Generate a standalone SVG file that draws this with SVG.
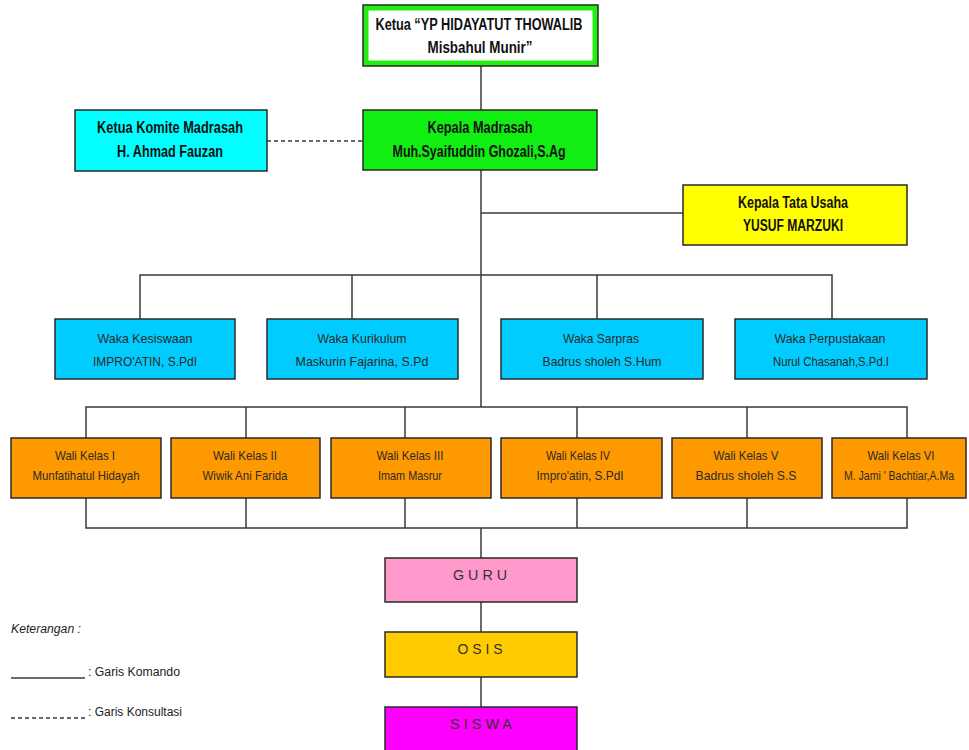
<svg xmlns="http://www.w3.org/2000/svg" width="969" height="750" viewBox="0 0 969 750">
<style>
.box{stroke:#2a2a2a;stroke-width:1.5}
.ln{stroke:#3a3a3a;stroke-width:1.5;fill:none}
.dash{stroke:#3a3a3a;stroke-width:1.5;fill:none;stroke-dasharray:4 3}
text{font-family:"Liberation Sans","DejaVu Sans",sans-serif}
.b{font-weight:bold;font-size:16px;fill:#111;text-anchor:middle}
.s{font-size:13.5px;fill:#2a2a2a;text-anchor:middle}
.sp{font-size:14px;fill:#333;text-anchor:middle}
.lg{font-size:12px;fill:#222}
</style>
<rect width="969" height="750" fill="#fff"/>
<g id="connectors">
<line class="ln" x1="481" y1="66" x2="481" y2="110"/>
<line class="dash" x1="267" y1="141" x2="363" y2="141"/>
<line class="ln" x1="481" y1="170" x2="481" y2="407"/>
<line class="ln" x1="481" y1="213" x2="683" y2="213"/>
<polyline class="ln" points="140,319 140,275 832,275 832,319"/>
<line class="ln" x1="352" y1="275" x2="352" y2="319"/>
<line class="ln" x1="597" y1="275" x2="597" y2="319"/>
<polyline class="ln" points="86,438 86,407 907,407 907,438"/>
<line class="ln" x1="246" y1="407" x2="246" y2="438"/>
<line class="ln" x1="405" y1="407" x2="405" y2="438"/>
<line class="ln" x1="577" y1="407" x2="577" y2="438"/>
<line class="ln" x1="747" y1="407" x2="747" y2="438"/>
<polyline class="ln" points="86,498 86,528 907,528 907,498"/>
<line class="ln" x1="246" y1="498" x2="246" y2="528"/>
<line class="ln" x1="405" y1="498" x2="405" y2="528"/>
<line class="ln" x1="577" y1="498" x2="577" y2="528"/>
<line class="ln" x1="747" y1="498" x2="747" y2="528"/>
<line class="ln" x1="481" y1="528" x2="481" y2="558"/>
<line class="ln" x1="481" y1="602" x2="481" y2="632"/>
<line class="ln" x1="481" y1="677" x2="481" y2="707"/>
</g>
<g id="ketua-yp">
<rect class="box" x="363" y="5" width="235" height="61" fill="#22ee11"/>
<rect x="368.5" y="10.5" width="224" height="50" fill="#fff"/>
<text class="b" x="479" y="30" textLength="207" lengthAdjust="spacingAndGlyphs">Ketua “YP HIDAYATUT  THOWALIB</text>
<text class="b" x="480" y="53" textLength="105" lengthAdjust="spacingAndGlyphs">Misbahul Munir”</text>
</g>
<g id="kepala-madrasah">
<rect class="box" x="363" y="110" width="234" height="60" fill="#11ee11"/>
<text class="b" x="480" y="133" textLength="105" lengthAdjust="spacingAndGlyphs">Kepala Madrasah</text>
<text class="b" x="479" y="157" textLength="173" lengthAdjust="spacingAndGlyphs">Muh.Syaifuddin Ghozali,S.Ag</text>
</g>
<g id="ketua-komite">
<rect class="box" x="75" y="110" width="192" height="61" fill="#00ffff"/>
<text class="b" x="170" y="133" textLength="146" lengthAdjust="spacingAndGlyphs">Ketua Komite Madrasah</text>
<text class="b" x="170" y="157" textLength="106" lengthAdjust="spacingAndGlyphs">H. Ahmad Fauzan</text>
</g>
<g id="kepala-tu">
<rect class="box" x="683" y="185" width="224" height="60" fill="#ffff00"/>
<text class="b" x="793" y="208" textLength="110" lengthAdjust="spacingAndGlyphs">Kepala Tata Usaha</text>
<text class="b" x="793" y="231" textLength="100" lengthAdjust="spacingAndGlyphs">YUSUF  MARZUKI</text>
</g>
<g id="waka-kesiswaan">
<rect class="box" x="55" y="319" width="180" height="60" fill="#00ccff"/>
<text class="s" x="145" y="343" textLength="95" lengthAdjust="spacingAndGlyphs">Waka Kesiswaan</text>
<text class="s" x="145" y="366" textLength="104" lengthAdjust="spacingAndGlyphs">IMPRO'ATIN, S.PdI</text>
</g>
<g id="waka-kurikulum">
<rect class="box" x="267" y="319" width="191" height="60" fill="#00ccff"/>
<text class="s" x="362" y="343" textLength="89" lengthAdjust="spacingAndGlyphs">Waka Kurikulum</text>
<text class="s" x="362" y="366" textLength="133" lengthAdjust="spacingAndGlyphs">Maskurin Fajarina, S.Pd</text>
</g>
<g id="waka-sarpras">
<rect class="box" x="501" y="319" width="202" height="60" fill="#00ccff"/>
<text class="s" x="601" y="343" textLength="76" lengthAdjust="spacingAndGlyphs">Waka Sarpras</text>
<text class="s" x="602" y="366" textLength="119" lengthAdjust="spacingAndGlyphs">Badrus sholeh S.Hum</text>
</g>
<g id="waka-perpustakaan">
<rect class="box" x="735" y="319" width="192" height="60" fill="#00ccff"/>
<text class="s" x="830" y="343" textLength="111" lengthAdjust="spacingAndGlyphs">Waka Perpustakaan</text>
<text class="s" x="831" y="366" textLength="116" lengthAdjust="spacingAndGlyphs">Nurul Chasanah,S.Pd.I</text>
</g>
<g id="wali-1">
<rect class="box" x="11" y="438" width="150" height="60" fill="#ff9900"/>
<text class="s" x="85" y="460" textLength="60" lengthAdjust="spacingAndGlyphs">Wali Kelas I</text>
<text class="s" x="86" y="480" textLength="107" lengthAdjust="spacingAndGlyphs">Munfatihatul Hidayah</text>
</g>
<g id="wali-2">
<rect class="box" x="171" y="438" width="149" height="60" fill="#ff9900"/>
<text class="s" x="245" y="460" textLength="64" lengthAdjust="spacingAndGlyphs">Wali Kelas II</text>
<text class="s" x="245" y="480" textLength="85" lengthAdjust="spacingAndGlyphs">Wiwik Ani Farida</text>
</g>
<g id="wali-3">
<rect class="box" x="331" y="438" width="160" height="60" fill="#ff9900"/>
<text class="s" x="410" y="460" textLength="67" lengthAdjust="spacingAndGlyphs">Wali Kelas III</text>
<text class="s" x="410" y="480" textLength="64" lengthAdjust="spacingAndGlyphs">Imam Masrur</text>
</g>
<g id="wali-4">
<rect class="box" x="501" y="438" width="161" height="60" fill="#ff9900"/>
<text class="s" x="578" y="460" textLength="64" lengthAdjust="spacingAndGlyphs">Wali Kelas IV</text>
<text class="s" x="580" y="480" textLength="87" lengthAdjust="spacingAndGlyphs">Impro'atin, S.PdI</text>
</g>
<g id="wali-5">
<rect class="box" x="672" y="438" width="150" height="60" fill="#ff9900"/>
<text class="s" x="746" y="460" textLength="65" lengthAdjust="spacingAndGlyphs">Wali Kelas V</text>
<text class="s" x="746" y="480" textLength="101" lengthAdjust="spacingAndGlyphs">Badrus sholeh S.S</text>
</g>
<g id="wali-6">
<rect class="box" x="832" y="438" width="134" height="60" fill="#ff9900"/>
<text class="s" x="901" y="460" textLength="67" lengthAdjust="spacingAndGlyphs">Wali Kelas VI</text>
<text class="s" x="899" y="480" font-size="12" style="font-size:12px" textLength="110" lengthAdjust="spacingAndGlyphs">M. Jami ' Bachtiar,A.Ma</text>
</g>
<g id="guru">
<rect class="box" x="385" y="558" width="192" height="44" fill="#ff99cc"/>
<text class="sp" x="480" y="580" textLength="54" lengthAdjust="spacingAndGlyphs">G U R U</text>
</g>
<g id="osis">
<rect class="box" x="385" y="632" width="192" height="45" fill="#ffcc00"/>
<text class="sp" x="480" y="654" textLength="45" lengthAdjust="spacingAndGlyphs">O S I S</text>
</g>
<g id="siswa">
<rect class="box" x="385" y="707" width="192" height="50" fill="#ff00ff"/>
<text class="sp" x="481" y="729" textLength="62" lengthAdjust="spacingAndGlyphs">S I S W A</text>
</g>
<g id="legend">
<text class="lg" x="11" y="633" font-style="italic" textLength="70" lengthAdjust="spacingAndGlyphs">Keterangan :</text>
<line class="ln" x1="11" y1="678" x2="85" y2="678"/>
<text class="lg" x="88" y="676" textLength="92" lengthAdjust="spacingAndGlyphs">: Garis Komando</text>
<line class="dash" x1="11" y1="718" x2="85" y2="718"/>
<text class="lg" x="88" y="716" textLength="94" lengthAdjust="spacingAndGlyphs">: Garis Konsultasi</text>
</g>
</svg>
